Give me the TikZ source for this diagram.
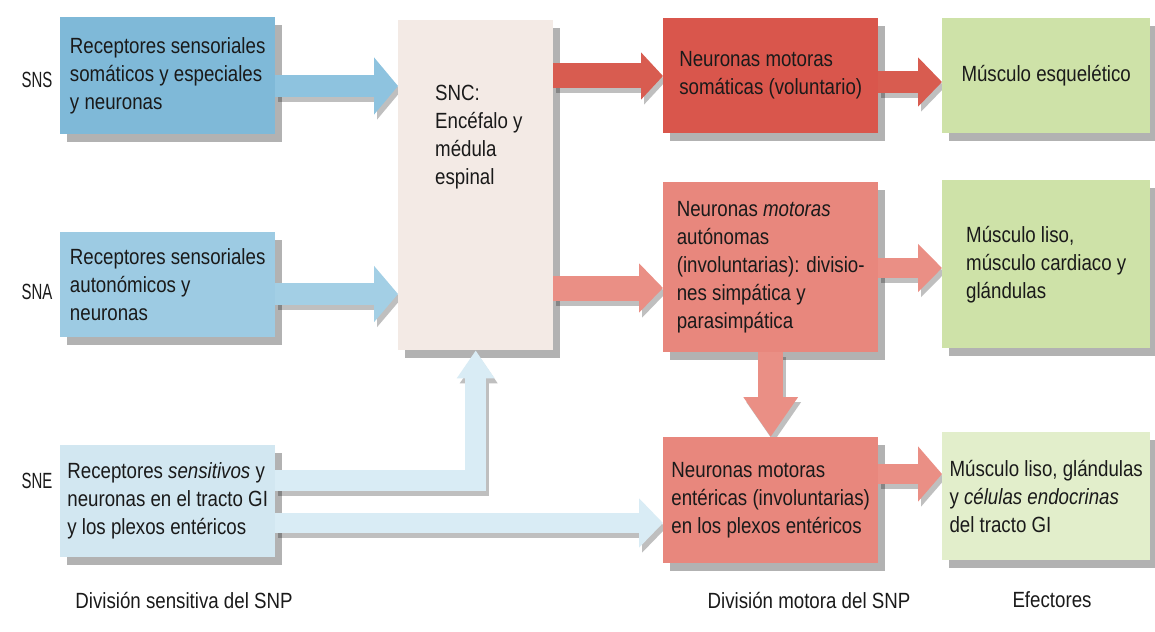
\documentclass[tikz,border=0pt]{standalone}
\usepackage{fontspec}
\usepackage{graphicx}
\setmainfont{Liberation Sans}[FakeStretch=0.85]
\usetikzlibrary{arrows.meta,calc,shadows}
\pgfdeclarelayer{back}
\pgfdeclarelayer{bg}
\pgfsetlayers{back,bg,main}
\definecolor{bl1}{HTML}{7FB9D8}
\definecolor{bl2}{HTML}{9DCBE3}
\definecolor{bl3}{HTML}{D2E7F1}
\definecolor{bla1}{HTML}{8EC3DF}
\definecolor{bla2}{HTML}{A3CFE5}
\definecolor{bla3}{HTML}{D9ECF5}
\definecolor{sncc}{HTML}{F3EAE5}
\definecolor{rd1}{HTML}{D9564C}
\definecolor{rd2}{HTML}{E8877D}
\definecolor{rda1}{HTML}{D85C50}
\definecolor{rda2}{HTML}{EA8F85}
\definecolor{gr1}{HTML}{CEE2A8}
\definecolor{gr3}{HTML}{E2EECB}
\definecolor{txt}{HTML}{1A1A1A}
\newcommand{\blockarrow}[2]{%
  \begin{pgfonlayer}{bg}
    \draw[#1, draw=black!25, transform canvas={xshift=3pt,yshift=-5pt}] #2;
  \end{pgfonlayer}
  \draw[#1] #2;}
\begin{document}
\begin{tikzpicture}[x=1pt,y=-1pt,
  every node/.style={font=\fontsize{22}{28}\selectfont, text=txt},
  panel/.style={rectangle, anchor=north west, align=left, inner sep=0pt,
    drop shadow={shadow xshift=7pt,shadow yshift=-8pt,fill=black,opacity=0.3}},
  bluepanel/.style={panel, minimum width=215pt},
  redpanel/.style={panel, minimum width=215pt},
  greenpanel/.style={panel, minimum width=208pt},
  blk/.style n args={3}{line width=#1, line join=miter, -{Triangle[length=#3,width=#2]}},
  lbl/.style={inner sep=0pt}
]
\begin{pgfonlayer}{back}
\fill[white] (0,0) rectangle (1155,631);
\end{pgfonlayer}
\useasboundingbox (0,0) rectangle (1155,631);

% sensory boxes
\node[bluepanel, fill=bl1, minimum height=117pt] (b1) at (60,17)
  {Receptores sensoriales\\somáticos y especiales\\y neuronas};
\node[bluepanel, fill=bl2, minimum height=105pt] (b2) at (60,232)
  {Receptores sensoriales\\autonómicos y\\neuronas};
\node[bluepanel, fill=bl3, minimum height=112pt] (b3) at (60,445)
  {Receptores \textit{sensitivos} y\\neuronas en el tracto GI\\y los plexos entéricos};

% CNS
\node[panel, fill=sncc, minimum width=155pt, minimum height=330pt] (snc) at (398,20) {};
\node[anchor=north west, align=left, inner sep=0pt] (snct) at (435,85)
  {SNC:\\Encéfalo y\\médula\\espinal};

% motor boxes
\node[redpanel, fill=rd1, minimum height=115pt] (r1) at (663,18)
  {Neuronas motoras\\somáticas (voluntario)};
\node[redpanel, fill=rd2, minimum height=170pt] (r2) at (663,182)
  {Neuronas \textit{motoras}\\autónomas\\(involuntarias): divisio-\\nes simpática y\\parasimpática};
\node[redpanel, fill=rd2, minimum height=126pt] (r3) at (663,437)
  {Neuronas motoras\\entéricas (involuntarias)\\en los plexos entéricos};

% effectors
\node[greenpanel, fill=gr1, minimum height=115pt] (g1) at (942,18)
  {Músculo esquelético};
\node[greenpanel, fill=gr1, minimum height=168pt] (g2) at (942,180)
  {Músculo liso,\\músculo cardiaco y\\glándulas};
\node[greenpanel, fill=gr3, minimum height=128pt] (g3) at (942,432)
  {Músculo liso, glándulas\\y \textit{células endocrinas}\\del tracto GI};

% side labels
\node[lbl] (sns) at (37,80) {\scalebox{0.8}[1]{SNS}};
\node[lbl] (sna) at (37,292) {\scalebox{0.8}[1]{SNA}};
\node[lbl] (sne) at (37,481) {\scalebox{0.8}[1]{SNE}};

% bottom labels
\node[lbl] (lsens) at (184,600) {División sensitiva del SNP};
\node[lbl] (lmot) at (809,600) {División motora del SNP};
\node[lbl] (lefe) at (1052,600) {Efectores};

% connectors
\blockarrow{blk={22pt}{56pt}{24pt}, draw=bla1}{(b1.east |- 0,86) -- (snc.west |- 0,86)}
\blockarrow{blk={22pt}{55pt}{24pt}, draw=bla2}{(b2.east |- 0,294) -- (snc.west |- 0,294)}
\blockarrow{blk={21pt}{36pt}{28pt}, draw=bla3}{(b3.east |- 0,480) -| (snc.south)}
\blockarrow{blk={20pt}{48pt}{24pt}, draw=bla3}{(b3.east |- 0,523) -- (r3.west |- 0,523)}
\blockarrow{blk={25pt}{46pt}{22pt}, draw=rda1}{(snc.east |- 0,76) -- (r1.west |- 0,76)}
\blockarrow{blk={25pt}{48pt}{24pt}, draw=rda2}{(snc.east |- 0,288) -- (r2.west |- 0,288)}
\blockarrow{blk={22pt}{48pt}{24pt}, draw=rda1}{(r1.east |- 0,82) -- (g1.west |- 0,82)}
\blockarrow{blk={20pt}{47pt}{24pt}, draw=rda2}{(r2.east |- 0,268) -- (g2.west |- 0,268)}
\blockarrow{blk={25pt}{52pt}{40pt}, draw=rda2}{(r2.south) -- (r3.north)}
\blockarrow{blk={20pt}{54pt}{24pt}, draw=rda2}{(r3.east |- 0,474) -- (g3.west |- 0,474)}
\end{tikzpicture}
\end{document}
